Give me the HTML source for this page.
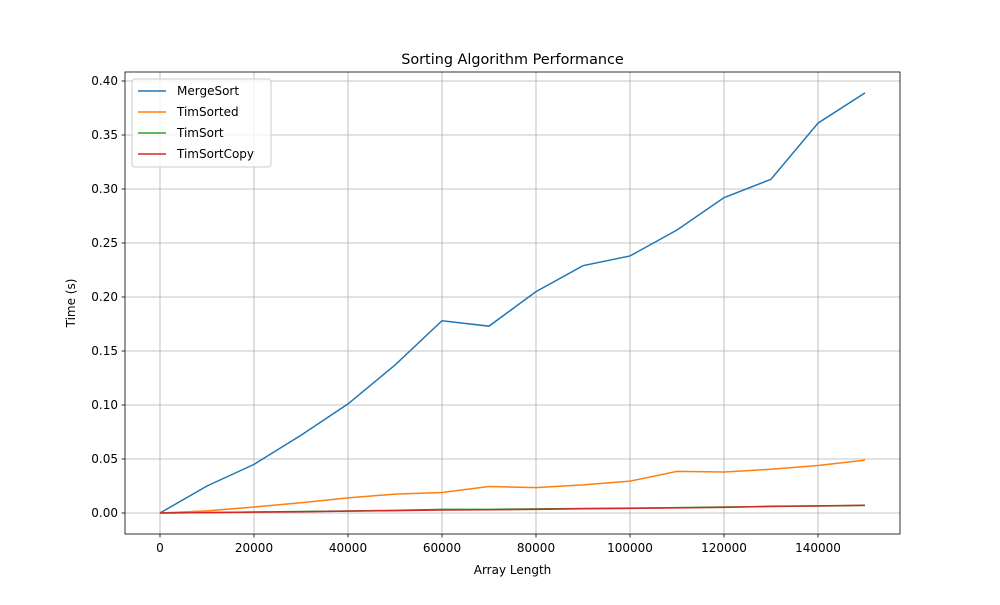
<!DOCTYPE html>
<html><head><meta charset="utf-8"><style>
body{margin:0;background:#fff;}
svg text{font-family:"DejaVu Sans","Liberation Sans",sans-serif;fill:#000;}
</style></head><body>
<svg id="chart" width="1000" height="600" xmlns="http://www.w3.org/2000/svg">
<rect width="1000" height="600" fill="#fff"/>
<g id="grid"></g><g id="series"></g><g id="axes"></g>
</svg>
<script>
const xValues=[0,10000,20000,30000,40000,50000,60000,70000,80000,90000,100000,110000,120000,130000,140000,150000];
const mergeSort=[0,0.025,0.045,0.072,0.101,0.137,0.178,0.173,0.205,0.229,0.238,0.262,0.292,0.309,0.361,0.389];
const timSorted=[0,0.002,0.0055,0.0095,0.014,0.0175,0.019,0.0245,0.0235,0.026,0.0295,0.0385,0.038,0.0405,0.044,0.049];
const timSort=[0,0.0004,0.0009,0.0014,0.0019,0.0024,0.0034,0.0034,0.0038,0.0042,0.0045,0.005,0.0055,0.006,0.0065,0.007];
const timSortCopy=[0,0.0003,0.0008,0.0012,0.0017,0.0022,0.0028,0.003,0.0034,0.0039,0.0043,0.0048,0.0052,0.0062,0.0066,0.0072];
const xTicks=[0,20000,40000,60000,80000,100000,120000,140000];
const yTicks=[0,0.05,0.10,0.15,0.20,0.25,0.30,0.35,0.40];
const seriesNames=["MergeSort","TimSorted","TimSort","TimSortCopy"];
const colors=["#1f77b4","#ff7f0e","#2ca02c","#d62728"];
const L=125,R=900,T=72,B=534;
const xs=v=>160+v*(865-160)/150000;
const ys=v=>513-v*(513-81)/0.40;
const NS="http://www.w3.org/2000/svg";
function mk(t,a,p){const e=document.createElementNS(NS,t);for(const k in a)e.setAttribute(k,a[k]);p.appendChild(e);return e;}
const grid=document.getElementById('grid'),ser=document.getElementById('series'),ax=document.getElementById('axes');
xTicks.forEach(v=>{const x=xs(v);
 const g=mk('line',{x1:x,x2:x,y1:T,y2:B,stroke:'#b0b0b0','stroke-width':0.8},grid);
 
 mk('line',{x1:x,x2:x,y1:B,y2:B+3.5,stroke:'#000','stroke-width':0.8},ax);
 const t=mk('text',{x:x,y:B+18,'text-anchor':'middle','font-size':12},ax);t.textContent=v;
 });
yTicks.forEach(v=>{const y=ys(v);
 const g=mk('line',{x1:L,x2:R,y1:y,y2:y,stroke:'#b0b0b0','stroke-width':0.8},grid);
 
 mk('line',{x1:L-3.5,x2:L,y1:y,y2:y,stroke:'#000','stroke-width':0.8},ax);
 const t=mk('text',{x:L-7,y:y+4,'text-anchor':'end','font-size':12},ax);t.textContent=v.toFixed(2);
 });
[mergeSort,timSorted,timSort,timSortCopy].forEach((d,i)=>{
 const p=mk('polyline',{points:d.map((v,j)=>xs(xValues[j])+','+ys(v)).join(' '),fill:'none',stroke:colors[i],'stroke-width':1.5},ser);
 });
const fr=mk('rect',{x:L,y:T,width:R-L,height:B-T,fill:'none',stroke:'#000','stroke-width':0.8},ax);

const ti=mk('text',{x:(L+R)/2,y:64,'text-anchor':'middle','font-size':14.4},ax);ti.textContent='Sorting Algorithm Performance';

const xl=mk('text',{x:(L+R)/2,y:574,'text-anchor':'middle','font-size':12},ax);xl.textContent='Array Length';

const yl=mk('text',{x:0,y:0,'text-anchor':'middle','font-size':12,transform:'translate(75,'+((T+B)/2)+') rotate(-90)'},ax);yl.textContent='Time (s)';

const lg=mk('g',{},ax);
mk('rect',{x:132,y:79,width:139,height:88,rx:3,fill:'#fff','fill-opacity':0.8,stroke:'#ccc'},lg);
seriesNames.forEach((n,i)=>{const y=91+i*21;
 const e=mk('g',{},lg);
 mk('line',{x1:138,x2:166,y1:y,y2:y,stroke:colors[i],'stroke-width':1.5},e);
 const t=mk('text',{x:177,y:y+4,'font-size':12},e);t.textContent=n;});
</script>
</body></html>
